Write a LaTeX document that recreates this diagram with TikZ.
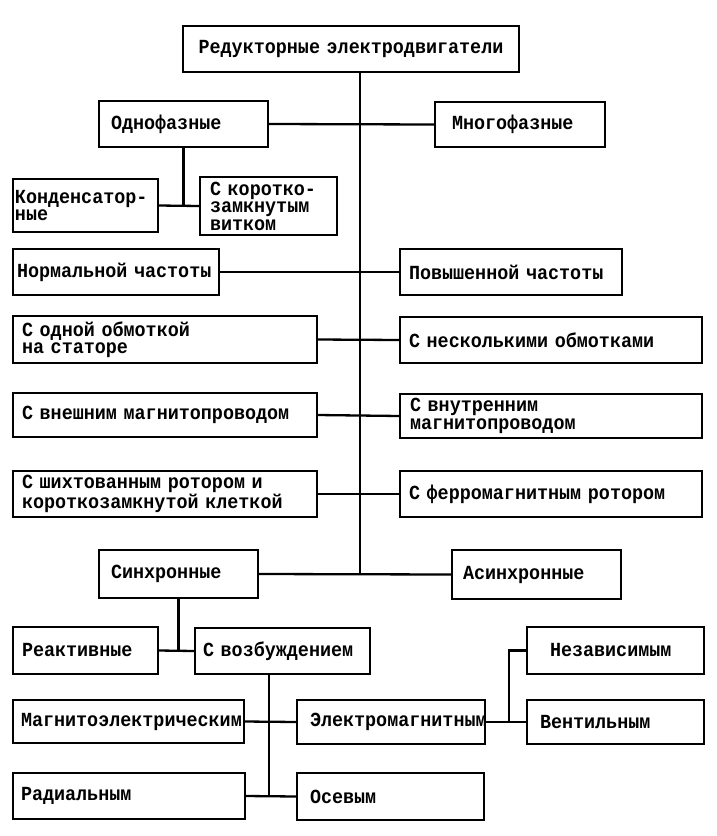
\documentclass[tikz,border=0pt]{standalone}
\usepackage{fontspec}
\newfontfamily\shrift[FakeStretch=0.92]{Liberation Mono}
\usepackage{tikz}

\begin{document}
\begin{tikzpicture}[x=1pt,y=-1pt,
		blok/.style={draw,line width=1.4pt,rectangle,align=left,inner ysep=0pt,font=\shrift\bfseries\fontsize{20}{17.5}\selectfont},
		ramka/.style n args={3}{blok,text width=#1pt,inner xsep=#2pt,minimum height=#3pt},
		svyaz/.style={line width=2.3pt}]
		\useasboundingbox[fill=white] (0,0) rectangle (717,836);
		\node[ramka={312}{12}{46},align=center] (glav) at (351,49) {Редукторные электродвигатели};
		\node[ramka={145}{12}{46}] (odno) at (183.5,124) {Однофазные};
		\node[ramka={136}{17}{45}] (mnogo) at (520,124.5) {Многофазные};
		\node[ramka={141}{2}{53}] (kond) at (85.5,205.5) {Конденсатор-\\ные};
		\node[ramka={117}{10}{58}] (korot) at (268.5,206) {С коротко-\\замкнутым\\витком};
		\node[ramka={198}{4}{46}] (norm) at (116,272) {Нормальной~частоты};
		\node[ramka={204}{9}{46}] (povysh) at (511,272) {Повышенной частоты};
		\node[ramka={286}{9}{47}] (odnoi) at (165,339.5) {С одной обмоткой\\на статоре};
		\node[ramka={284}{9}{46}] (neskol) at (551,340) {С несколькими обмотками};
		\node[ramka={286}{9}{44}] (vnesh) at (165,415) {С внешним магнитопроводом};
		\node[ramka={282}{10}{44}] (vnutr) at (551,416) {С внутренним\\магнитопроводом};
		\node[ramka={286}{9}{46}] (shikh) at (165,494) {С шихтованным ротором и\\короткозамкнутой клеткой};
		\node[ramka={284}{9}{46}] (ferro) at (551,494) {С ферромагнитным ротором};
		\node[ramka={135}{12}{48}] (sinkh) at (178.5,574) {Синхронные};
		\node[ramka={147}{11}{49}] (asinkh) at (536.5,574.5) {Асинхронные};
		\node[ramka={127}{9}{47}] (reakt) at (85.5,650.5) {Реактивные};
		\node[ramka={159}{8}{46}] (vozb) at (282.5,651) {С возбуждением};
		\node[ramka={215}{8}{43}] (magel) at (128.5,721.5) {Магнитоэлектрическим};
		\node[ramka={162}{13}{44}] (elmag) at (391,722) {Электромагнитным};
		\node[ramka={131}{23}{47}] (nezav) at (615.5,650.5) {Независимым};
		\node[ramka={151}{13}{44}] (ventil) at (615.5,722) {Вентильным};
		\node[ramka={216}{8}{46}] (radial) at (129,796) {Радиальным};
		\node[ramka={161}{13}{47}] (osev) at (390.5,796.5) {Осевым};
		\coordinate (stvol) at (360,0);
		\coordinate (razv) at (269,0);
		\coordinate (vilka) at (509,0);
		\draw[line width=2.7pt] (glav.south -| stvol) -- (sinkh.east -| stvol);
		\foreach \a/\b in {odno/mnogo,norm/povysh,odnoi/neskol,vnesh/vnutr,shikh/ferro,sinkh/asinkh,kond/korot,reakt/vozb,magel/elmag,radial/osev,elmag/ventil} \draw[svyaz] (\a.east) -- (\b.west);
		\draw[svyaz] (odno.south) -- (odno.south |- kond.east);
		\draw[svyaz] (sinkh.south) -- (sinkh.south |- reakt.east);
		\draw[svyaz] (vozb.south -| razv) -- (radial.east -| razv);
		\draw[svyaz] (elmag.east -| vilka) |- (nezav.west);
	\end{tikzpicture}
\end{document}
